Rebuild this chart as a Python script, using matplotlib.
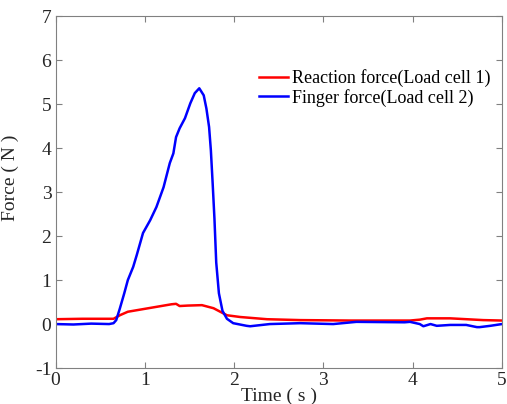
import numpy as np
import matplotlib.pyplot as plt

# finger force (load cell 2)
t_finger = [0, 0.2, 0.4, 0.6, 0.65, 0.68, 0.72, 0.77, 0.81, 0.87, 0.91, 0.98, 1.06, 1.13,
            1.21, 1.28, 1.32, 1.35, 1.39, 1.45, 1.51, 1.56, 1.61, 1.66, 1.69, 1.72, 1.74,
            1.76, 1.78, 1.80, 1.83, 1.87, 1.92, 1.99, 2.14, 2.18, 2.40, 2.74, 3.11, 3.37,
            3.91, 3.97, 4.08, 4.12, 4.20, 4.27, 4.42, 4.60, 4.72, 4.75, 4.87, 5.0]
f_finger = [0.0, -0.01, 0.01, 0.0, 0.02, 0.09, 0.35, 0.7, 1.0, 1.3, 1.57, 2.07, 2.36, 2.66,
            3.11, 3.66, 3.88, 4.25, 4.45, 4.68, 5.02, 5.25, 5.36, 5.2, 4.9, 4.48, 3.95,
            3.2, 2.4, 1.4, 0.7, 0.3, 0.12, 0.02, -0.04, -0.05, 0.0, 0.02, 0.0, 0.05,
            0.04, 0.05, 0.0, -0.05, 0.0, -0.04, -0.02, -0.02, -0.07, -0.07, -0.04, 0.0]

# reaction force (load cell 1)
t_react = [0, 0.3, 0.65, 0.72, 0.81, 1.04, 1.3, 1.35, 1.39, 1.48, 1.64, 1.77, 1.92, 2.07,
           2.37, 2.74, 3.3, 3.97, 4.08, 4.16, 4.42, 4.79, 5.0]
f_react = [0.11, 0.12, 0.12, 0.2, 0.28, 0.36, 0.45, 0.46, 0.41, 0.42, 0.43, 0.36, 0.2, 0.16,
           0.11, 0.09, 0.08, 0.08, 0.1, 0.13, 0.13, 0.09, 0.08]

plt.rcParams['font.family'] = ['Liberation Serif', 'DejaVu Serif']
plt.rcParams['axes.unicode_minus'] = False

fig = plt.figure(figsize=(5.07, 4.04), dpi=100)
ax = fig.add_axes([0.1095, 0.089, 0.8805, 0.871])

ax.plot(t_react, f_react, color='#ff0000', lw=1.8, label='Reaction force(Load cell 1)')
ax.plot(t_finger, f_finger, color='#0000ff', lw=1.8, label='Finger force(Load cell 2)')

ax.set_xlim(0, 5)
ax.set_ylim(-1, 7)
ax.set_xticks(range(0, 6))
ax.set_yticks(range(-1, 8))
ax.tick_params(direction='in', length=4, top=True, right=True, labelsize=14,
               colors='#808080', labelcolor='#262626', pad=3)
for s in ax.spines.values():
    s.set_color('#808080')

ax.set_xlabel('Time ( s )', fontsize=14, color='#262626', labelpad=-1)
ax.set_ylabel('Force ( N )', fontsize=14, color='#262626')
ax.yaxis.set_label_coords(-0.082, 0.54)

ax.legend(loc='upper left', bbox_to_anchor=(0.44, 0.87), frameon=False, fontsize=13,
          handlelength=1.6, handletextpad=0.2, labelspacing=0.1, borderaxespad=0)

fig.savefig('out.png', dpi=100)
